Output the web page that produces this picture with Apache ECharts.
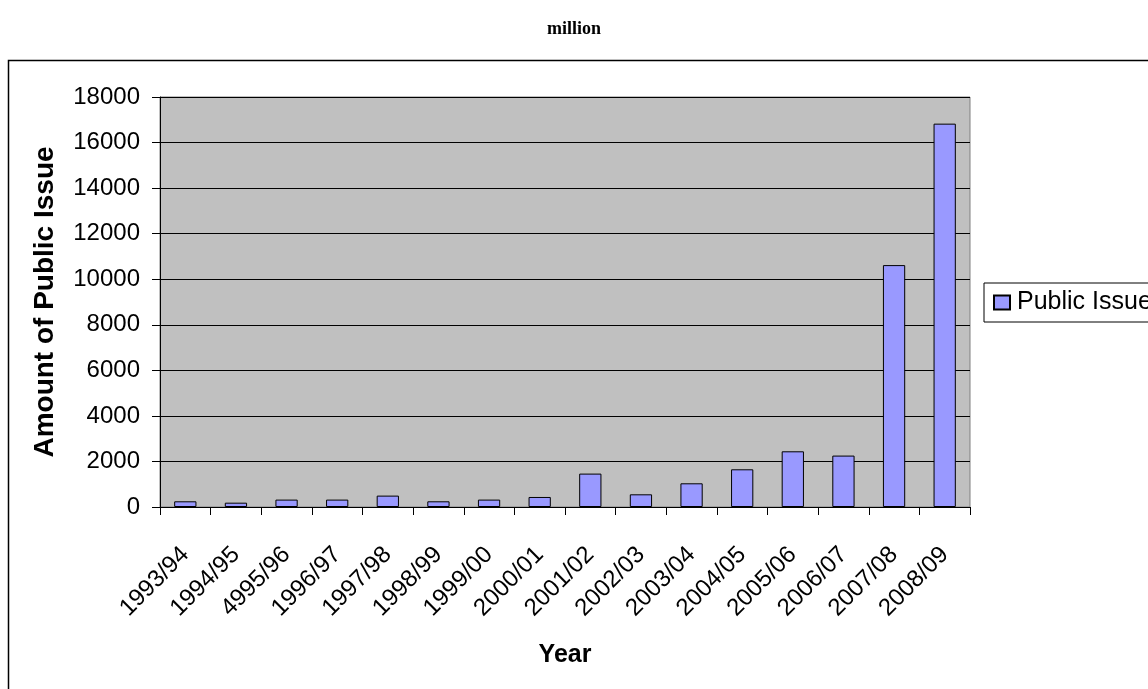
<!DOCTYPE html>
<html>
<head>
<meta charset="utf-8">
<script src="https://cdn.jsdelivr.net/npm/echarts@6/dist/echarts.min.js"></script>
<style>
  html, body { margin: 0; padding: 0; background: #fff; }
  #chart { width: 1148px; height: 689px; }
</style>
</head>
<body>
<div id="chart"></div>
<script>
const years = ['1993/94', '1994/95', '4995/96', '1996/97', '1997/98', '1998/99', '1999/00', '2000/01',
  '2001/02', '2002/03', '2003/04', '2004/05', '2005/06', '2006/07', '2007/08', '2008/09'];
const publicIssue = [250, 190, 325, 325, 500, 250, 325, 440, 1466, 557, 1040, 1655, 2445, 2257, 10620, 16830];
const yTicks = { min: 0, max: 18000, step: 2000 };

let myChart = echarts.init(document.getElementById('chart'));
let option = {
  animation: false,
  title: {
    text: 'million',
    left: 'center',
    top: 15,
    textStyle: { fontFamily: 'Liberation Serif', fontWeight: 'bold', fontSize: 18, color: '#000' }
  },
  graphic: [{
    type: 'rect',
    shape: { x: 8.5, y: 60.5, width: 1200, height: 700 },
    style: { fill: 'none', stroke: '#000', lineWidth: 1.5 },
    z: -1
  }],
  legend: {
    left: 984,
    top: 283,
    orient: 'vertical',
    padding: [7, 10, 7, 9],
    borderColor: '#000',
    borderWidth: 1,
    itemWidth: 16,
    itemHeight: 14,
    itemGap: 6,
    icon: 'rect',
    textStyle: { fontFamily: 'Liberation Sans', fontSize: 25, color: '#000', padding: [0, 0, 0, 2] },
    data: ['Public Issue']
  },
  grid: {
    left: 160, right: 178, top: 97, bottom: 182,
    show: true, backgroundColor: '#C0C0C0', borderColor: '#808080', borderWidth: 1
  },
  xAxis: {
    type: 'category',
    data: years,
    name: 'Year',
    nameLocation: 'middle',
    nameGap: 136,
    nameTextStyle: { fontFamily: 'Liberation Sans', fontWeight: 'bold', fontSize: 25, color: '#000' },
    axisLine: { lineStyle: { color: '#000', width: 1 } },
    axisTick: { show: true, length: 8, lineStyle: { color: '#000' } },
    axisLabel: { rotate: 45, fontFamily: 'Liberation Sans', fontSize: 24, color: '#000', margin: 44 }
  },
  yAxis: {
    type: 'value',
    min: yTicks.min,
    max: yTicks.max,
    interval: yTicks.step,
    name: 'Amount of Public Issue',
    nameLocation: 'middle',
    nameGap: 101,
    nameTextStyle: { fontFamily: 'Liberation Sans', fontWeight: 'bold', fontSize: 28, color: '#000' },
    axisLine: { show: true, lineStyle: { color: '#000', width: 1 } },
    axisTick: { show: true, length: 8, lineStyle: { color: '#000' } },
    axisLabel: {
      fontFamily: 'Liberation Sans', fontSize: 24, color: '#000', margin: 20,
      formatter: function (v) { return String(v); }
    },
    splitLine: { lineStyle: { color: '#000', width: 1 } }
  },
  series: [{
    name: 'Public Issue',
    type: 'bar',
    data: publicIssue,
    barCategoryGap: '56%',
    itemStyle: { color: '#9999FF', borderColor: '#000', borderWidth: 1 }
  }]
};
myChart.setOption(option);
</script>
</body>
</html>
